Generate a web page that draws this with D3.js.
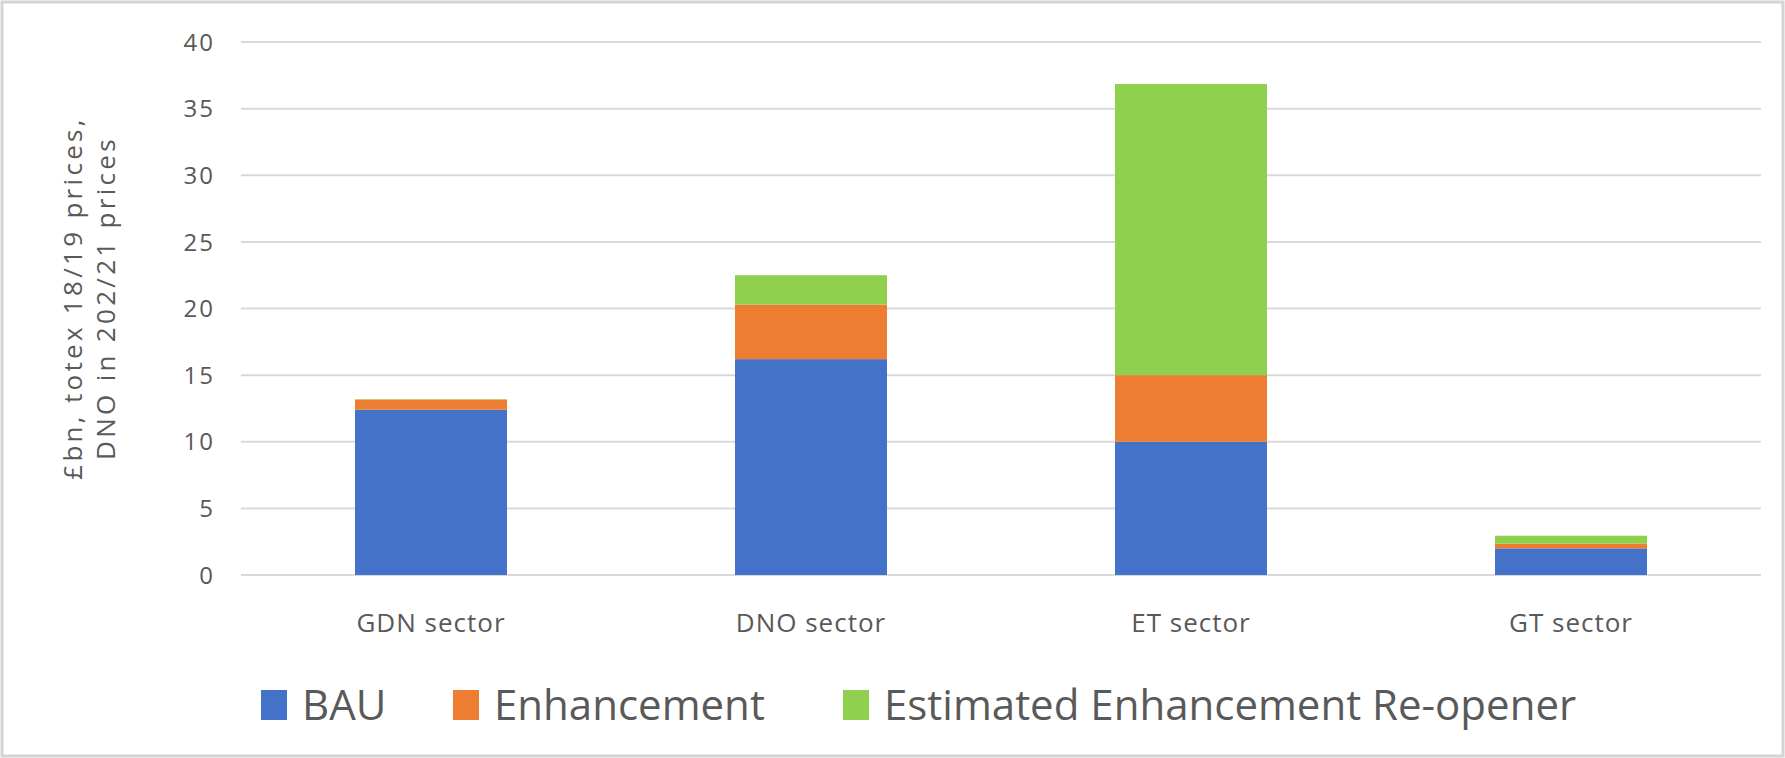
<!DOCTYPE html>
<html>
<head>
<meta charset="utf-8">
<script src="https://cdn.jsdelivr.net/npm/d3@7"></script>
<style>
  body { margin: 0; background: #fff; }
  svg { display: block; font-family: "Open Sans", "Noto Sans", sans-serif; }
</style>
</head>
<body>
<svg id="chart"></svg>
<script>
// chart data
const sectors = ["GDN sector", "DNO sector", "ET sector", "GT sector"];
const seriesNames = ["BAU", "Enhancement", "Estimated Enhancement Re-opener"];
const bau = [12.4, 16.2, 10.0, 2.0];
const enhancement = [0.75, 4.1, 5.0, 0.35];
const reopener = [0.05, 2.2, 21.85, 0.6];
const yTicks = [0, 5, 10, 15, 20, 25, 30, 35, 40];
const colors = ["#4472c8", "#ed7d31", "#8fd14f"];

const width = 1785, height = 758;
const margin = { top: 42, right: 24, bottom: 183, left: 241 };
const textColor = "#595959";

const svg = d3.select("#chart")
    .attr("width", width)
    .attr("height", height);

// outer frame
svg.append("rect")
    .attr("x", 2).attr("y", 2)
    .attr("width", width - 4).attr("height", height - 4)
    .attr("fill", "#fff")
    .attr("stroke", "#d4d4d4")
    .attr("stroke-width", 3);

const rows = sectors.map((s, i) => ({
    sector: s,
    [seriesNames[0]]: bau[i],
    [seriesNames[1]]: enhancement[i],
    [seriesNames[2]]: reopener[i]
}));
const stacked = d3.stack().keys(seriesNames)(rows);

const x = d3.scaleBand()
    .domain(sectors)
    .range([margin.left, width - margin.right])
    .paddingInner(0.6)
    .paddingOuter(0.3);

const y = d3.scaleLinear()
    .domain([0, 40])
    .range([height - margin.bottom, margin.top]);

// gridlines
svg.append("g")
    .selectAll("line")
    .data(yTicks)
    .join("line")
    .attr("x1", margin.left)
    .attr("x2", width - margin.right)
    .attr("y1", d => y(d))
    .attr("y2", d => y(d))
    .attr("stroke", "#d9d9d9")
    .attr("stroke-width", 2);

// y tick labels
svg.append("g")
    .selectAll("text")
    .data(yTicks)
    .join("text")
    .attr("x", 215)
    .attr("y", d => y(d))
    .attr("dy", "0.36em")
    .attr("text-anchor", "end")
    .attr("font-size", "24px")
    .attr("letter-spacing", "2px")
    .attr("fill", textColor)
    .text(d => d);

// bars
svg.append("g")
    .selectAll("g")
    .data(stacked)
    .join("g")
    .attr("fill", (d, i) => colors[i])
    .selectAll("rect")
    .data(d => d)
    .join("rect")
    .attr("x", d => x(d.data.sector))
    .attr("y", d => y(d[1]))
    .attr("width", x.bandwidth())
    .attr("height", d => y(d[0]) - y(d[1]));

// category labels
svg.append("g")
    .selectAll("text")
    .data(sectors)
    .join("text")
    .attr("x", d => x(d) + x.bandwidth() / 2)
    .attr("y", 632)
    .attr("text-anchor", "middle")
    .attr("font-size", "26px")
    .attr("letter-spacing", "1px")
    .attr("fill", textColor)
    .text(d => d);

// y axis title
const title = svg.append("text")
    .attr("transform", `translate(0, 298) rotate(-90)`)
    .attr("text-anchor", "middle")
    .attr("font-size", "26px")
    .attr("letter-spacing", "3.3px")
    .attr("fill", textColor);
title.append("tspan").attr("x", 0).attr("y", 82).text("£bn, totex 18/19 prices,");
title.append("tspan").attr("x", 0).attr("y", 115).text("DNO in 202/21 prices");

// legend
const legendX = [261, 453, 843];
const legend = svg.append("g")
    .selectAll("g")
    .data(seriesNames)
    .join("g")
    .attr("transform", (d, i) => `translate(${legendX[i]}, 690)`);
legend.append("rect")
    .attr("width", 26)
    .attr("height", 30)
    .attr("fill", (d, i) => colors[i]);
legend.append("text")
    .attr("x", 41)
    .attr("y", 30)
    .attr("font-size", "42px")
    .attr("fill", textColor)
    .text(d => d);
</script>
</body>
</html>
